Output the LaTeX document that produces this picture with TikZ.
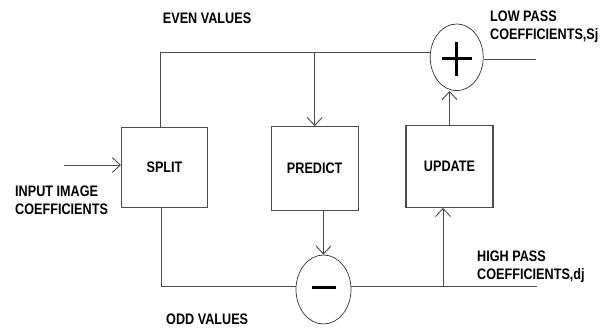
\documentclass[tikz,border=0pt]{standalone}
\usepackage{fontspec}
\setmainfont{Liberation Sans}[FakeStretch=0.83]
\usetikzlibrary{arrows.meta,shapes.geometric,calc}

\begin{document}
\begin{tikzpicture}[x=0.03cm,y=-0.03cm,
    every node/.style={font=\bfseries\fontsize{13}{15}\selectfont,text=black},
    blk/.style={draw=black!70,line width=0.9pt,rectangle,inner sep=0pt},
    sumnode/.style={draw=black!80,line width=0.6pt,ellipse,inner sep=0pt},
    lbl/.style={align=left,anchor=west,inner sep=0pt},
    wire/.style={draw=black!70,line width=0.8pt},
    arr/.style={wire,-{Straight Barb[length=0.24cm,width=0.45cm]}},
    signline/.style={draw=black,line width=2.6pt}]
    \useasboundingbox (0,0) rectangle (605,328);

    % blocks
    \node[blk,minimum width=2.58cm,minimum height=2.4cm] (split) at (164.5,167.6) {SPLIT};
    \node[blk,minimum width=2.6cm,minimum height=2.52cm] (predict) at (314.7,168.7) {PREDICT};
    \node[blk,minimum width=2.61cm,minimum height=2.45cm] (update) at (449.5,166.5) {UPDATE};
    \node[sumnode,minimum width=1.59cm,minimum height=2cm] (plus) at (456.7,57.3) {};
    \node[sumnode,minimum width=1.65cm,minimum height=2.07cm] (minus) at (323.5,289.5) {};

    % signs
    \draw[signline] ($(plus)+(-15,1.5)$) -- ($(plus)+(15,1.5)$);
    \draw[signline] ($(plus)+(0,-15.5)$) -- ($(plus)+(0,18.5)$);
    \draw[signline] ($(minus)+(-12,-2)$) -- ($(minus)+(12,-2)$);

    % labels
    \node[lbl] (even) at (162.7,18.3) {EVEN VALUES};
    \node[lbl] (odd) at (166,319) {ODD VALUES};
    \node[lbl] (input) at (15,200) {INPUT IMAGE\\COEFFICIENTS};
    \node[lbl] (low) at (490,26.5) {LOW PASS\\COEFFICIENTS,Sj};
    \node[lbl] (high) at (477,267) {HIGH PASS\\COEFFICIENTS,dj};

    % free ends and bends
    \coordinate (in) at (64,165);
    \coordinate (ev) at (160.5,52.3);
    \coordinate (od) at (161,286);
    \coordinate (hp) at (443,286);
    \coordinate (hpend) at (537,286);
    \coordinate (lpend) at (536,59);

    % connectors
    \path (in) edge[arr] (in -| split.west);
    \draw [wire] (split.north -| ev) -- (ev) -- (ev -| plus.west);
    \path (ev -| predict.north) edge[arr] (predict.north);
    \path (predict.south -| minus.north) edge[arr] (minus.north);
    \draw [wire] (split.south -| od) -- (od) -- (od -| minus.west);
    \draw [wire] (od -| minus.east) -- (hpend);
    \path (hp) edge[arr] (hp |- update.south);
    \path (update.north) edge[arr] (update.north |- plus.south);
    \draw [wire] (plus.east |- lpend) -- (lpend);
\end{tikzpicture}
\end{document}
